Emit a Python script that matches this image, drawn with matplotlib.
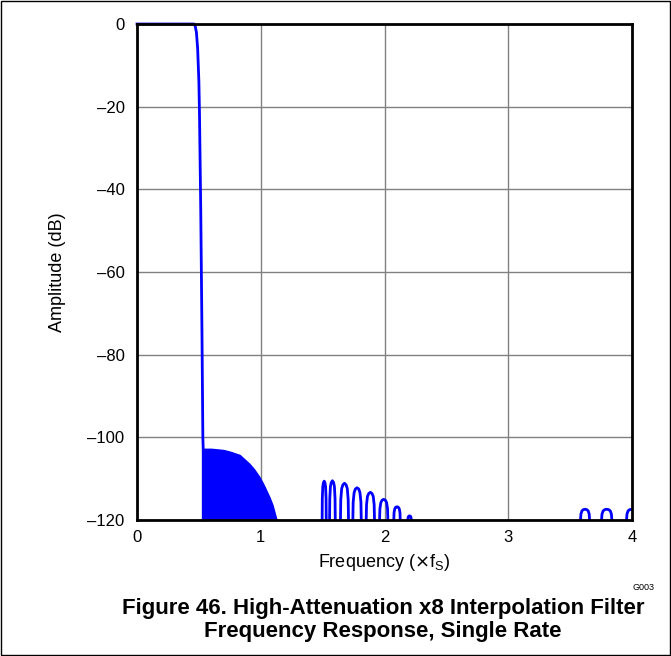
import matplotlib
matplotlib.use('Agg')
import matplotlib.pyplot as plt
from matplotlib.patches import Rectangle

plt.rcParams['font.family'] = ['Liberation Sans', 'DejaVu Sans']

# passband edge and transition
pass_x = [0.0, 0.46, 0.47, 0.48, 0.49, 0.50, 0.505, 0.515, 0.525, 0.532, 0.535, 0.535]
pass_y = [0.0, 0.0, -0.5, -2.0, -6.0, -14.0, -22.0, -45.0, -75.0, -100.0, -103.0, -120.0]

# envelope of the dense stopband ripple (drawn solid)
dense_x = [0.535, 0.60, 0.70, 0.752, 0.832, 0.913, 0.95, 0.994, 1.03, 1.075, 1.10, 1.129, 1.137]
dense_y = [-102.6, -102.6, -102.9, -103.3, -104.1, -106.3, -107.6, -109.5, -111.5, -114.4,
           -116.3, -119.5, -120.0]

# individual side lobes (x, dB)
lobes = [
    ([1.496, 1.4973, 1.501, 1.506, 1.5125, 1.519, 1.524, 1.5277, 1.529],
     [-120, -114.8, -112.0, -111.0, -110.6, -111.0, -112.0, -114.8, -120]),
    ([1.556, 1.5578, 1.5629, 1.5698, 1.579, 1.5882, 1.5951, 1.6002, 1.602],
     [-120, -114.8, -111.9, -110.9, -110.5, -110.9, -111.9, -114.8, -120]),
    ([1.644, 1.6466, 1.6538, 1.6635, 1.6765, 1.6895, 1.6993, 1.7064, 1.709],
     [-120, -115.1, -112.4, -111.5, -111.1, -111.5, -112.4, -115.1, -120]),
    ([1.744, 1.7467, 1.7542, 1.7644, 1.778, 1.7916, 1.8018, 1.8093, 1.812],
     [-120, -115.7, -113.4, -112.5, -112.2, -112.5, -113.4, -115.7, -120]),
    ([1.852, 1.8547, 1.8621, 1.8721, 1.8855, 1.8989, 1.909, 1.9163, 1.919],
     [-120, -116.3, -114.3, -113.6, -113.3, -113.6, -114.3, -116.3, -120]),
    ([1.960, 1.9627, 1.9701, 1.9801, 1.9935, 2.0069, 2.017, 2.0243, 2.027],
     [-120, -117.3, -115.8, -115.2, -115.0, -115.2, -115.8, -117.3, -120]),
    ([2.075, 2.0771, 2.0828, 2.0906, 2.101, 2.1114, 2.1192, 2.1249, 2.127],
     [-120, -118.2, -117.3, -116.9, -116.8, -116.9, -117.3, -118.2, -120]),
    ([2.189, 2.1901, 2.193, 2.1971, 2.2025, 2.2079, 2.212, 2.2149, 2.216],
     [-120, -119.5, -119.2, -119.05, -119.0, -119.05, -119.2, -119.5, -120]),
    ([3.584, 3.5869, 3.595, 3.6059, 3.6205, 3.6351, 3.646, 3.6541, 3.657],
     [-120, -118.6, -117.8, -117.5, -117.4, -117.5, -117.8, -118.6, -120]),
    ([3.754, 3.7573, 3.7665, 3.7789, 3.7955, 3.8121, 3.8246, 3.8337, 3.837],
     [-120, -118.6, -117.8, -117.5, -117.4, -117.5, -117.8, -118.6, -120]),
    ([3.956, 3.959, 3.968, 3.980, 4.000],
     [-120, -118.6, -117.8, -117.5, -117.4]),
]

x_ticks = [0, 1, 2, 3, 4]
y_ticks = [0, -20, -40, -60, -80, -100, -120]
y_labels = ['0', '\u201320', '\u201340', '\u201360', '\u201380', '\u2013100', '\u2013120']

blue = '#0000ff'

fig = plt.figure(figsize=(6.71, 6.56), dpi=100)
ax = fig.add_axes([0.2042, 0.2073, 0.7377, 0.7561])

ax.plot(pass_x, pass_y, color=blue, lw=2.0, clip_on=False, zorder=3)
ax.fill_between(dense_x, dense_y, -120, color=blue, lw=0, zorder=3)
for lx, ly in lobes:
    ax.plot(lx, ly, color=blue, lw=2.0, zorder=3)

ax.set_xlim(0, 4)
ax.set_ylim(-120, 0)
ax.set_xticks(x_ticks)
ax.set_xticklabels([str(t) for t in x_ticks])
ax.set_yticks(y_ticks)
ax.set_yticklabels(y_labels)
ax.tick_params(axis='both', length=0, labelsize=12)
ax.tick_params(axis='x', pad=7)
ax.tick_params(axis='y', pad=9)
ax.grid(True, color='#808080', lw=1.0)
ax.set_axisbelow(True)
for s in ax.spines.values():
    s.set_linewidth(2.0)
    s.set_zorder(4)

ax.set_xlabel('Frequency ($\\times$f$_\\mathregular{S}$)', fontsize=13, labelpad=5)
ax.set_ylabel('Amplitude (dB)', fontsize=13, labelpad=15)

fig.text(0.975, 0.104, 'G003', fontsize=6.5, ha='right', va='center')
fig.text(0.571, 0.073, 'Figure 46. High-Attenuation x8 Interpolation Filter',
         fontsize=16, fontweight='bold', ha='center', va='center')
fig.text(0.571, 0.038, 'Frequency Response, Single Rate',
         fontsize=16, fontweight='bold', ha='center', va='center')

fig.patches.append(Rectangle((0.001, 0.001), 0.998, 0.998, transform=fig.transFigure,
                             fill=False, edgecolor='black', lw=1.0))

fig.savefig('out.png', dpi=100)
